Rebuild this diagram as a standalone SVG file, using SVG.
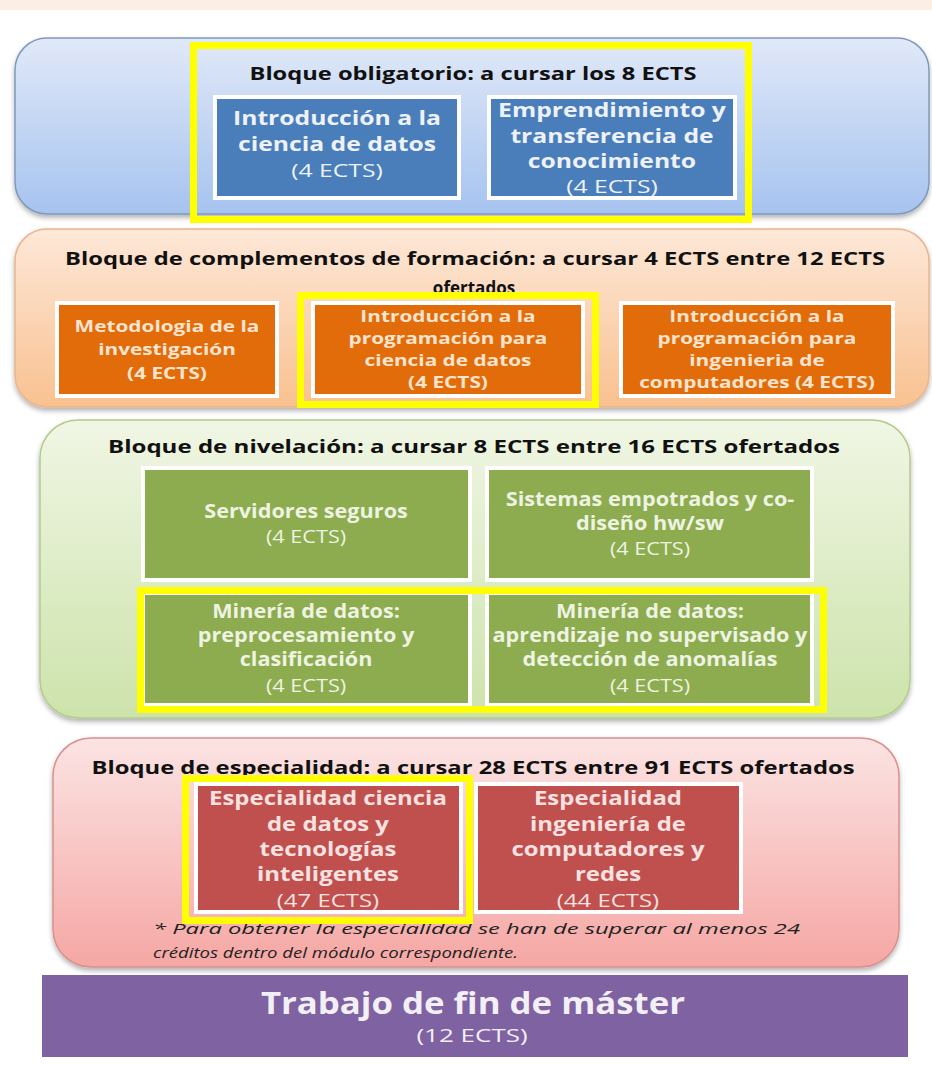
<svg xmlns="http://www.w3.org/2000/svg" width="932" height="1065" viewBox="0 0 932 1065">
<defs>
<linearGradient id="gBlue" x1="0" y1="0" x2="0" y2="1"><stop offset="0" stop-color="#e1e9f8"/><stop offset="1" stop-color="#a6c3ef"/></linearGradient>
<linearGradient id="gOrange" x1="0" y1="0" x2="0" y2="1"><stop offset="0" stop-color="#fde8d8"/><stop offset="1" stop-color="#f9c190"/></linearGradient>
<linearGradient id="gGreen" x1="0" y1="0" x2="0" y2="1"><stop offset="0" stop-color="#f0f6e4"/><stop offset="1" stop-color="#cde3ab"/></linearGradient>
<linearGradient id="gRed" x1="0" y1="0" x2="0" y2="1"><stop offset="0" stop-color="#fbe4e3"/><stop offset="1" stop-color="#f5a7a4"/></linearGradient>
<filter id="sh" x="-5%" y="-5%" width="110%" height="115%"><feDropShadow dx="0" dy="3" stdDeviation="2.5" flood-color="#000" flood-opacity="0.3"/></filter>
</defs>
<style>
.title{font-family:"Open Sans","Liberation Sans",sans-serif;font-weight:bold;font-size:17px;fill:#111;text-anchor:middle}
.bt{font-family:"Open Sans","Liberation Sans",sans-serif;font-weight:bold;font-size:19px;text-anchor:middle}
.ects{font-family:"Open Sans","Liberation Sans",sans-serif;font-size:19px;text-anchor:middle}
.ot{font-family:"Open Sans","Liberation Sans",sans-serif;font-weight:bold;font-size:16px;text-anchor:middle}
.box{stroke:#fff;stroke-width:4}
.yel{fill:none;stroke:#ffff00;stroke-width:7}
.note{font-family:"Open Sans","Liberation Sans",sans-serif;font-style:italic;font-size:14px;fill:#222}
</style>
<rect x="0" y="0" width="932" height="1065" fill="#ffffff"/>
<rect x="0" y="0" width="932" height="10" fill="#fdeee4"/>

<g id="block-obligatorio">
<rect x="15" y="38" width="914" height="176" rx="32" fill="url(#gBlue)" stroke="#7f99bd" stroke-width="1.5" filter="url(#sh)"/>
<text class="title" x="473" y="80" textLength="447" lengthAdjust="spacingAndGlyphs">Bloque obligatorio: a cursar los 8 ECTS</text>
</g>
<g id="node-intro-ciencia">
<rect class="box" x="215" y="97" width="244" height="101" fill="#4a7ebb"/>
<g transform="matrix(1.3,0,0,1,-101.1,0)" fill="#eef2f8">
<text class="bt" x="337" y="125">Introducción a la</text>
<text class="bt" x="337" y="151">ciencia de datos</text>
<text class="ects" x="337" y="177">(4 ECTS)</text>
</g>
</g>
<g id="node-emprendimiento">
<rect class="box" x="489" y="97" width="246" height="101" fill="#4a7ebb"/>
<g transform="matrix(1.3,0,0,1,-183.6,0)" fill="#eef2f8">
<text class="bt" x="612" y="117">Emprendimiento y</text>
<text class="bt" x="612" y="143">transferencia de</text>
<text class="bt" x="612" y="168">conocimiento</text>
<text class="ects" x="612" y="193">(4 ECTS)</text>
</g>
</g>
<rect class="yel" x="193.5" y="45.5" width="555" height="174"/>

<g id="block-complementos">
<rect x="15" y="229" width="914" height="178" rx="32" fill="url(#gOrange)" stroke="#e8b58f" stroke-width="1.5" filter="url(#sh)"/>
<text class="title" x="475" y="265" textLength="820" lengthAdjust="spacingAndGlyphs">Bloque de complementos de formación: a cursar 4 ECTS entre 12 ECTS</text>
<text class="title" x="474" y="294" font-size="18">ofertados</text>
</g>
<g id="node-metodologia">
<rect class="box" x="57" y="303" width="220" height="93" fill="#e36c0a"/>
<g transform="matrix(1.3,0,0,1,-50.1,0)" fill="#fde4cf">
<text class="ot" x="167" y="332">Metodologia de la</text>
<text class="ot" x="167" y="355">investigación</text>
<text class="ot" x="167" y="379" font-weight="normal">(4 ECTS)</text>
</g>
</g>
<g id="node-prog-ciencia">
<rect class="box" x="313" y="303" width="270" height="93" fill="#e36c0a"/>
<g transform="matrix(1.3,0,0,1,-134.4,0)" fill="#fde4cf">
<text class="ot" x="448" y="322">Introducción a la</text>
<text class="ot" x="448" y="344" font-weight="normal">programación para</text>
<text class="ot" x="448" y="366" font-weight="normal">ciencia de datos</text>
<text class="ot" x="448" y="388" font-weight="normal">(4 ECTS)</text>
</g>
</g>
<g id="node-prog-computadores">
<rect class="box" x="621" y="303" width="272" height="93" fill="#e36c0a"/>
<g transform="matrix(1.3,0,0,1,-227.1,0)" fill="#fde4cf">
<text class="ot" x="757" y="322">Introducción a la</text>
<text class="ot" x="757" y="344">programación para</text>
<text class="ot" x="757" y="366">ingenieria de</text>
<text class="ot" x="757" y="388">computadores (4 ECTS)</text>
</g>
</g>
<rect class="yel" x="300.5" y="295.5" width="295" height="109"/>

<g id="block-nivelacion">
<rect x="40" y="420" width="870" height="298" rx="38" fill="url(#gGreen)" stroke="#b3cc8c" stroke-width="1.5" filter="url(#sh)"/>
<text class="title" x="474" y="453" textLength="732" lengthAdjust="spacingAndGlyphs">Bloque de nivelación:  a cursar 8 ECTS entre 16 ECTS ofertados</text>
</g>
<g id="node-servidores">
<rect class="box" x="143" y="468" width="327" height="112" fill="#8cac4f"/>
<g transform="matrix(1.14,0,0,1,-42.8,0)" fill="#eef3e2">
<text class="bt" x="306" y="518" font-weight="normal">Servidores seguros</text>
<text class="ects" x="306" y="543">(4 ECTS)</text>
</g>
</g>
<g id="node-sistemas">
<rect class="box" x="487" y="468" width="325" height="112" fill="#8cac4f"/>
<g transform="matrix(1.14,0,0,1,-91,0)" fill="#eef3e2">
<text class="bt" x="650" y="506" font-weight="normal">Sistemas empotrados y co-</text>
<text class="bt" x="650" y="530" font-weight="normal">diseño hw/sw</text>
<text class="ects" x="650" y="555">(4 ECTS)</text>
</g>
</g>
<g id="node-mineria-clasificacion">
<rect class="box" x="143" y="593" width="327" height="112" fill="#8cac4f"/>
<g transform="matrix(1.14,0,0,1,-42.8,0)" fill="#eef3e2">
<text class="bt" x="306" y="618" font-weight="normal">Minería de datos:</text>
<text class="bt" x="306" y="642" font-weight="normal">preprocesamiento y</text>
<text class="bt" x="306" y="666" font-weight="normal">clasificación</text>
<text class="ects" x="306" y="692">(4 ECTS)</text>
</g>
</g>
<g id="node-mineria-anomalias">
<rect class="box" x="487" y="593" width="325" height="112" fill="#8cac4f"/>
<g transform="matrix(1.14,0,0,1,-91,0)" fill="#eef3e2">
<text class="bt" x="650" y="618" font-weight="normal">Minería de datos:</text>
<text class="bt" x="650" y="642" font-weight="normal">aprendizaje no supervisado y</text>
<text class="bt" x="650" y="666" font-weight="normal">detección de anomalías</text>
<text class="ects" x="650" y="692">(4 ECTS)</text>
</g>
</g>
<rect class="yel" x="140.5" y="590.5" width="683" height="119"/>

<g id="block-especialidad">
<rect x="53" y="738" width="846" height="229" rx="38" fill="url(#gRed)" stroke="#d9908d" stroke-width="1.5" filter="url(#sh)"/>
<text class="title" x="473" y="774" textLength="763" lengthAdjust="spacingAndGlyphs">Bloque de especialidad: a cursar 28 ECTS entre 91 ECTS ofertados</text>
<text class="note" x="153" y="934" textLength="647" lengthAdjust="spacingAndGlyphs">* Para obtener la especialidad se han de superar al menos 24</text>
<text class="note" x="153" y="958" textLength="365" lengthAdjust="spacingAndGlyphs">créditos dentro del módulo correspondiente.</text>
</g>
<g id="node-esp-ciencia">
<rect class="box" x="196" y="784" width="265" height="128" fill="#c0504d"/>
<g transform="matrix(1.26,0,0,1,-85.3,0)" fill="#f8e2e1">
<text class="bt" x="328" y="805">Especialidad ciencia</text>
<text class="bt" x="328" y="831">de datos y</text>
<text class="bt" x="328" y="856">tecnologías</text>
<text class="bt" x="328" y="881">inteligentes</text>
<text class="ects" x="328" y="907">(47 ECTS)</text>
</g>
</g>
<g id="node-esp-computadores">
<rect class="box" x="476" y="784" width="265" height="128" fill="#c0504d"/>
<g transform="matrix(1.26,0,0,1,-158.1,0)" fill="#f8e2e1">
<text class="bt" x="608" y="805">Especialidad</text>
<text class="bt" x="608" y="831">ingeniería de</text>
<text class="bt" x="608" y="856">computadores y</text>
<text class="bt" x="608" y="881">redes</text>
<text class="ects" x="608" y="907">(44 ECTS)</text>
</g>
</g>
<rect class="yel" x="185.5" y="778.5" width="284" height="142"/>

<g id="node-tfm">
<rect x="42" y="975" width="866" height="82" fill="#7f62a1"/>
<g transform="matrix(1.16,0,0,1,-75.7,0)">
<text x="473" y="1014" font-family="'Open Sans','Liberation Sans',sans-serif" font-weight="bold" font-size="30" fill="#f3eff7" text-anchor="middle">Trabajo de fin de máster</text>
</g>
<g transform="matrix(1.37,0,0,1,-174.6,0)">
<text class="ects" x="472" y="1042" fill="#f3eff7" font-size="18">(12 ECTS)</text>
</g>
</g>
<g id="connectors"></g>
</svg>
